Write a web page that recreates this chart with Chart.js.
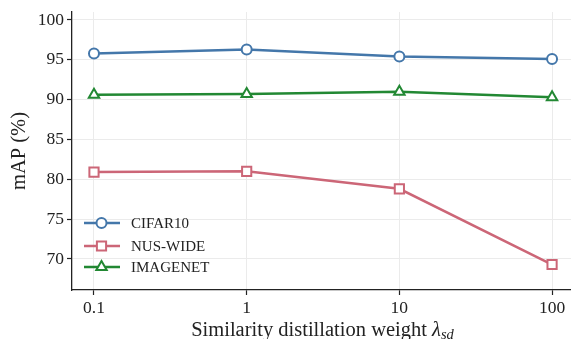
<!DOCTYPE html>
<html>
<head>
<meta charset="utf-8">
<script src="https://cdn.jsdelivr.net/npm/chart.js@4.4.1/dist/chart.umd.min.js"></script>
<style>
  html, body { margin: 0; padding: 0; background: #fff; }
</style>
</head>
<body>
<canvas id="chart" width="571" height="339"></canvas>
<script>
// data
const xLabels = ['0.1', '1', '10', '100'];
const xPos = [0, 1, 2, 3];
const yTicks = [70, 75, 80, 85, 90, 95, 100];
const cifar10 = [95.8, 96.3, 95.4, 95.1];
const nusWide = [80.9, 81.0, 78.8, 69.3];
const imagenet = [90.6, 90.7, 91.0, 90.3];

const SERIF = "'Liberation Serif', 'Times New Roman', serif";
const BLUE = '#4477aa', ROSE = '#cc6677', GREEN = '#228833';

function series(label, values, color, style, radius) {
    return {
        label: label,
        data: values.map((v, i) => ({ x: xPos[i], y: v })),
        borderColor: color,
        backgroundColor: '#ffffff',
        borderWidth: 2.5,
        pointStyle: style,
        pointRadius: radius,
        pointHoverRadius: radius,
        pointBorderWidth: 2,
        pointBorderColor: color,
        pointBackgroundColor: '#ffffff',
        tension: 0
    };
}

// legend sits inside the plot, lower left
const insideLegend = {
    id: 'insideLegend',
    afterDatasetsDraw(chart) {
        const ctx = chart.ctx;
        const rows = [223, 246, 267];
        chart.data.datasets.forEach((ds, i) => {
            const y = rows[i];
            ctx.save();
            ctx.strokeStyle = ds.borderColor;
            ctx.lineWidth = ds.borderWidth;
            ctx.beginPath();
            ctx.moveTo(84, y);
            ctx.lineTo(120, y);
            ctx.stroke();
            ctx.fillStyle = '#fff';
            ctx.lineWidth = ds.pointBorderWidth;
            Chart.helpers.drawPoint(ctx, { pointStyle: ds.pointStyle, radius: ds.pointRadius, borderWidth: 2 }, 101.5, y);
            ctx.fillStyle = '#222';
            ctx.font = '15px ' + SERIF;
            ctx.textBaseline = 'middle';
            ctx.fillText(ds.label, 131, y + 1);
            ctx.restore();
        });
    }
};

// x title with italic lambda and subscript
const xTitle = {
    id: 'xTitle',
    afterDraw(chart) {
        const ctx = chart.ctx;
        const main = 'Similarity distillation weight ';
        ctx.save();
        ctx.fillStyle = '#222';
        ctx.textBaseline = 'alphabetic';
        ctx.font = '20.5px ' + SERIF;
        const w1 = ctx.measureText(main).width;
        ctx.font = 'italic 20.5px ' + SERIF;
        const w2 = ctx.measureText('λ').width;
        ctx.font = 'italic 14.5px ' + SERIF;
        const w3 = ctx.measureText('sd').width;
        let x = 322.5 - (w1 + w2 + w3) / 2;
        const y = 336;
        ctx.font = '20.5px ' + SERIF;
        ctx.fillText(main, x, y);
        x += w1;
        ctx.font = 'italic 20.5px ' + SERIF;
        ctx.fillText('λ', x, y);
        x += w2;
        ctx.font = 'italic 14.5px ' + SERIF;
        ctx.fillText('sd', x, y + 3);
        ctx.restore();
    }
};

new Chart(document.getElementById('chart'), {
    type: 'line',
    data: {
        datasets: [
            series('CIFAR10', cifar10, BLUE, 'circle', 5),
            series('NUS-WIDE', nusWide, ROSE, 'rect', 6.5),
            series('IMAGENET', imagenet, GREEN, 'triangle', 6)
        ]
    },
    options: {
        responsive: false,
        animation: false,
        layout: { autoPadding: false, padding: { top: 12, right: 0, left: 0, bottom: 0 } },
        plugins: {
            legend: { display: false },
            tooltip: { enabled: false }
        },
        scales: {
            x: {
                type: 'linear',
                min: -0.144,
                max: 3.124,
                afterBuildTicks: s => { s.ticks = xPos.map(v => ({ value: v })); },
                afterFit: s => { s.height = 49; s.paddingLeft = 0; s.paddingRight = 0; },
                ticks: {
                    callback: (v) => xLabels[xPos.indexOf(v)],
                    color: '#222',
                    font: { family: SERIF, size: 17.5 },
                    padding: 3,
                    maxRotation: 0
                },
                grid: { color: '#ebebeb', lineWidth: 1, tickColor: '#222', tickLength: 5, tickWidth: 1.2 },
                border: { display: true, color: '#222', width: 1.3 }
            },
            y: {
                min: 66.1,
                max: 101,
                afterBuildTicks: s => { s.ticks = yTicks.map(v => ({ value: v })); },
                afterFit: s => { s.width = 72; s.paddingTop = 0; s.paddingBottom = 0; },
                ticks: {
                    color: '#222',
                    font: { family: SERIF, size: 17.5 },
                    padding: 3
                },
                grid: { color: '#ebebeb', lineWidth: 1, tickColor: '#222', tickLength: 5, tickWidth: 1.2 },
                border: { display: true, color: '#222', width: 1.3 },
                title: {
                    display: true,
                    text: 'mAP (%)',
                    color: '#222',
                    font: { family: SERIF, size: 20.5 },
                    padding: { top: 7, bottom: 0 }
                }
            }
        }
    },
    plugins: [insideLegend, xTitle]
});
</script>
</body>
</html>
